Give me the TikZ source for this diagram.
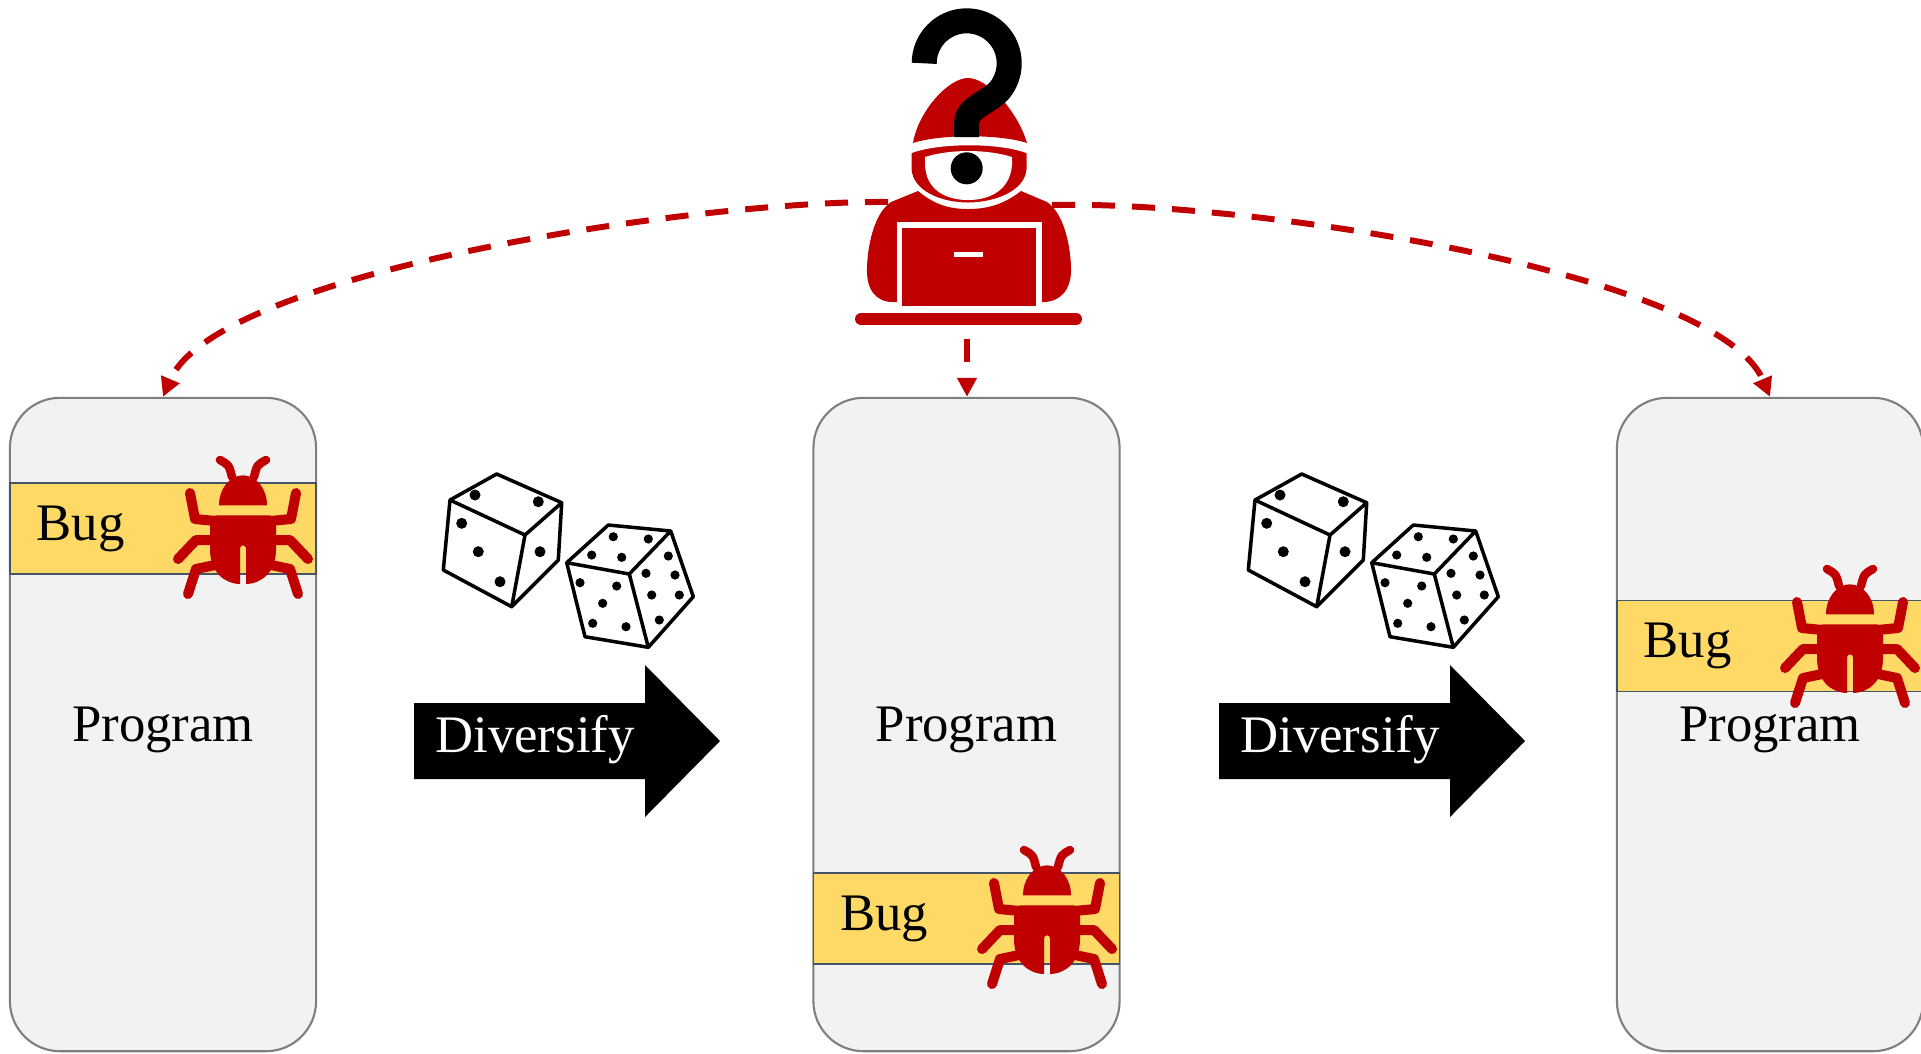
\documentclass[tikz,border=0pt]{standalone}
\usepackage{fontspec}
\setmainfont{Liberation Serif}
\usepackage{xcolor}
\usepackage{tikz}
\usetikzlibrary{positioning,arrows.meta}
\definecolor{rojo}{HTML}{C00000}
\definecolor{oro}{HTML}{FFD966}
\definecolor{pizarra}{HTML}{44546A}
\definecolor{gris}{HTML}{7F7F7F}
\definecolor{fondo}{HTML}{F2F2F2}

\begin{document}
\begin{tikzpicture}[
  x=0.01cm, y=-0.01cm,
  font=\fontsize{15}{18}\selectfont,
  caja/.style={draw=gris, fill=fondo, line width=0.6pt, rounded corners=0.5cm,
    minimum width=3.06cm, minimum height=6.53cm, inner sep=0pt, text depth=0pt},
  franja/.style={draw=pizarra, fill=oro, line width=0.5pt,
    minimum width=3.06cm, minimum height=0.91cm, inner sep=0pt},
  etiq/.style={anchor=west, inner sep=0pt},
  enlace/.style={rojo, line width=1.7pt, dash pattern=on 0.23cm off 0.17cm,
    -{Triangle[length=0.19cm, width=0.19cm]}},
  pata/.style={rojo, line width=0.1cm, line cap=round, line join=round},
  dado/.style={line width=1pt, line join=round, line cap=round},
  bicho/.pic={
    \fill[rojo] (-24,-21.7) .. controls (-24,-38.3) and (-13.3,-51.7) .. (0,-51.7)
      .. controls (13.3,-51.7) and (24,-38.3) .. (24,-21.7) -- cycle;
    \fill[rojo] (3,57) .. controls (19,56.5) and (33,45) .. (33,22) -- (33,-2)
      -- (27.5,-11.7) -- (-27.5,-11.7) -- (-33,-2) -- (-33,22)
      .. controls (-33,45) and (-19,56.5) .. (-3,57) -- (-3,21.3)
      arc (180:360:3) -- cycle;
    \foreach \s in {1,-1} {
      \draw[pata, line width=0.085cm] (\s*11,-50) .. controls (\s*14,-62) .. (\s*23,-67);
      \draw[pata] (\s*27,-6) -- (\s*48,-8) -- (\s*53,-34);
      \draw[pata] (\s*31,13) -- (\s*47,13) -- (\s*65,32);
      \draw[pata] (\s*28,38) -- (\s*47,42) -- (\s*55,67);
    }
  },
  dados/.pic={
    \draw[dado] (0,0) -- (46.7,-26) -- (111.7,2.7) -- (75,35) -- cycle
      (0,0) -- (-6.7,70) -- (61.7,106.7) -- (75,35)
      (111.7,2.7) -- (108.3,60) -- (61.7,106.7);
    \foreach \px/\py in {25/-5, 88.3/1.7, 11.7/23.3, 28.3/51.7, 50/81.7, 90/51.7}
      \fill (\px,\py) circle (5.5);
    \draw[dado] (116.7,62.7) -- (158.3,25) -- (220.7,31) -- (179.3,74) -- cycle
      (116.7,62.7) -- (135,136.7) -- (198.3,147.3) -- (179.3,74)
      (220.7,31) -- (243.3,96.7) -- (198.3,147.3);
    \foreach \px/\py in {163.3/36.7, 198.3/39, 141.7/55, 171.7/57.3,
        130/82.7, 166.7/86, 152.7/103.3, 142.7/123.3, 176/126.7,
        218.3/56, 196/73.3, 225/75, 201.7/95, 229.3/95, 209.3/120}
      \fill (\px,\py) circle (4.6);
  },
  flechadiv/.pic={
    \fill (0,-38) -- (231,-38) -- (231,-76) -- (306,0) -- (231,76)
      -- (231,38) -- (0,38) -- cycle;
    \node[white, anchor=base, inner sep=0pt] (-t) at (121,11) {Diversify};
  }
]
  \useasboundingbox (0,0) rectangle (1921,1053);

  \node[caja] (prog1) at (163,724.5) {Program};
  \node[caja] (prog2) at (966.5,724.5) {Program};
  \node[caja] (prog3) at (1770,724.5) {Program};

  \node[franja] (banda1) at (163,528.5) {};
  \node[franja] (banda2) at (966.5,918.5) {};
  \node[franja] (banda3) at (1770,646) {};
  \node[etiq] (bug1) at ([xshift=0.27cm]banda1.west) {Bug};
  \node[etiq] (bug2) at ([xshift=0.27cm]banda2.west) {Bug};
  \node[etiq] (bug3) at ([xshift=0.27cm]banda3.west) {Bug};
  \pic at (243,527) {bicho};
  \pic at (1047,917) {bicho};
  \pic at (1850,636) {bicho};

  \pic at (450,500) {dados};
  \pic at (1255,500) {dados};
  \pic (div1) at (414,741) {flechadiv};
  \pic (div2) at (1219,741) {flechadiv};

  % encapuchado con portatil
  \fill[rojo] (918,191) .. controls (936,206) and (952,209) .. (968,209)
    .. controls (984,209) and (1002,206) .. (1021,191) -- (1047,202)
    .. controls (1062,212) and (1070,240) .. (1071,267)
    .. controls (1072,290) and (1060,302) .. (1043,302) -- (893,302)
    .. controls (876,302) and (866,290) .. (867,267)
    .. controls (868,240) and (876,212) .. (891,202) -- cycle;
  \fill[rojo] (913,143) .. controls (918,112) and (948,78) .. (968,78)
    .. controls (988,78) and (1018,112) .. (1027,143)
    .. controls (1000,134) and (940,134) .. cycle;
  \filldraw[fill=rojo, draw=white, line width=0.03cm] (910,152) -- (910,170)
    .. controls (912,192) and (940,204) .. (968,204)
    .. controls (996,204) and (1026,192) .. (1028,170) -- (1028,152)
    .. controls (1000,141) and (938,141) .. cycle;
  \fill[white] (925,157) .. controls (950,149) and (987,149) .. (1012,157) -- (1012,165)
    .. controls (1010,190) and (990,200) .. (968,200)
    .. controls (946,200) and (926,190) .. (925,165) -- cycle;
  \fill[white] (897,222) rectangle (1042,310);
  \fill[rojo] (902,228) rectangle (1036,306);
  \fill[white] (954,252) rectangle (983,257);
  \draw[rojo, line width=0.12cm, line cap=round] (861,319) -- (1076,319);
  \draw[line width=0.25cm] (924.2,63.3) arc (180:400:42.5)
    .. controls (989,102) and (966.7,108) .. (966.7,122) -- (966.7,137);
  \fill (966.7,168.3) circle (16);

  \coordinate (ojoL) at (888,202);
  \coordinate (ojoR) at (1052,205);
  \coordinate (ojoB) at (967,339);
  \draw[enlace] (ojoL) .. controls +(-190,-2) and +(53,-125) .. (prog1.north);
  \draw[enlace] (ojoR) .. controls +(190,-5) and +(-53,-125) .. (prog3.north);
  \draw[enlace] (ojoB) -- (ojoB |- prog2.north);
\end{tikzpicture}
\end{document}
